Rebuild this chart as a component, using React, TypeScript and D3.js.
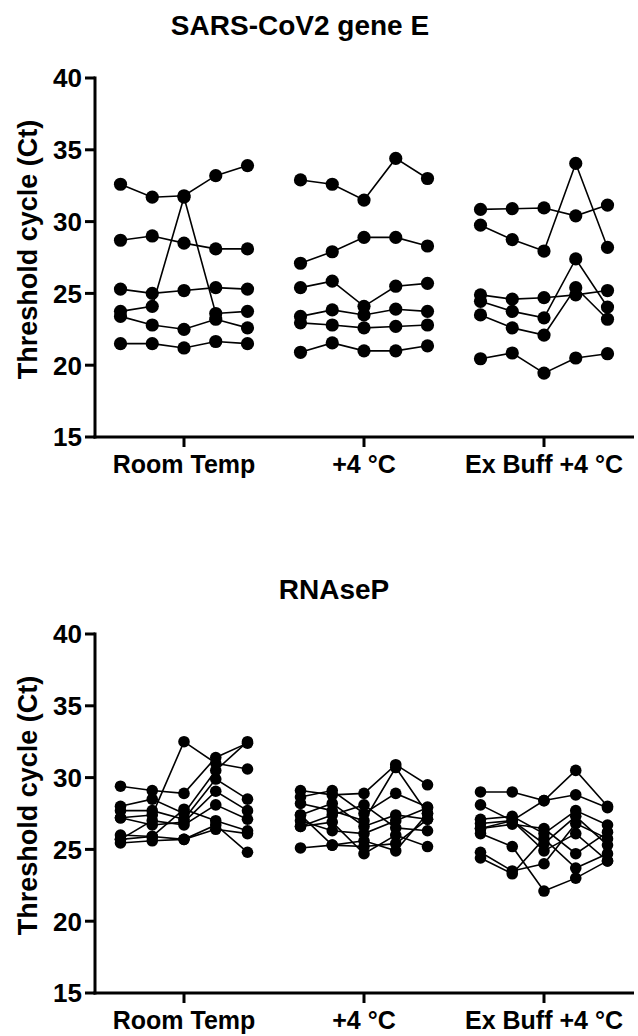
import React from "react";
import * as d3 from "d3";

const categories = ["Room Temp", "+4 °C", "Ex Buff +4 °C"];
const yTicks = [15, 20, 25, 30, 35, 40];
const timepoints = [0, 1, 2, 3, 4];

// SARS-CoV2 gene E: series per condition, 5 timepoints each
const geneERoomTemp = [
  [32.6, 31.7, 31.8, 33.2, 33.9],
  [28.7, 29.0, 28.5, 28.1, 28.1],
  [25.3, 25.0, 25.2, 25.4, 25.3],
  [23.75, 24.1, 31.7, 23.6, 23.75],
  [23.4, 22.8, 22.5, 23.2, 22.6],
  [21.5, 21.5, 21.2, 21.65, 21.5],
];
const geneEFour = [
  [32.9, 32.6, 31.5, 34.4, 33.0],
  [27.1, 27.9, 28.9, 28.9, 28.3],
  [25.4, 25.85, 24.1, 25.5, 25.7],
  [23.4, 23.85, 23.5, 23.9, 23.75],
  [22.95, 22.8, 22.6, 22.7, 22.8],
  [20.9, 21.55, 21.0, 21.0, 21.35],
];
const geneEExBuff = [
  [30.85, 30.9, 30.95, 30.4, 31.15],
  [29.75, 28.75, 27.95, 34.05, 28.2],
  [24.9, 24.6, 24.7, 24.9, 25.2],
  [24.45, 23.75, 23.3, 27.4, 24.05],
  [23.5, 22.6, 22.1, 25.4, 23.2],
  [20.45, 20.85, 19.45, 20.5, 20.8],
];

// RNAseP
const rnaseRoomTemp = [
  [29.4, 29.1, 28.9, 31.4, 32.4],
  [27.2, 27.4, 32.5, 31.0, 30.6],
  [28.0, 28.5, 27.5, 30.5, 32.5],
  [27.7, 27.7, 27.1, 29.9, 28.5],
  [27.2, 26.7, 26.9, 29.05, 27.7],
  [25.7, 27.0, 26.7, 28.1, 27.1],
  [26.0, 25.9, 27.8, 27.0, 26.3],
  [25.45, 25.6, 25.7, 26.7, 24.8],
  [25.7, 25.9, 25.7, 26.4, 26.1],
];
const rnaseFour = [
  [29.1, 28.8, 28.9, 30.9, 29.5],
  [28.65, 29.1, 27.5, 28.9, 27.95],
  [28.2, 27.7, 27.0, 30.7, 27.5],
  [27.4, 28.2, 26.6, 27.4, 27.1],
  [27.0, 26.3, 26.1, 27.0, 27.9],
  [26.6, 27.4, 28.1, 26.5, 26.3],
  [25.1, 25.3, 25.2, 25.4, 27.1],
  [26.6, 26.9, 24.7, 26.0, 25.2],
  [27.4, 25.3, 25.6, 24.9, 27.5],
];
const rnaseExBuff = [
  [29.0, 29.0, 28.4, 30.5, 28.0],
  [28.1, 27.0, 28.4, 28.8, 27.9],
  [27.1, 27.3, 26.1, 27.7, 26.7],
  [26.8, 27.0, 25.4, 27.3, 25.3],
  [26.45, 26.75, 26.45, 24.7, 26.2],
  [26.1, 25.2, 22.1, 23.0, 24.2],
  [24.8, 23.5, 24.0, 26.8, 25.75],
  [24.4, 23.3, 25.75, 23.7, 24.7],
  [26.45, 27.0, 24.9, 26.1, 24.2],
];

const panels = [
  { title: "SARS-CoV2 gene E", groups: [geneERoomTemp, geneEFour, geneEExBuff], top: 78, bottom: 437, titleX: 300, titleY: 35, r: 6.6 },
  { title: "RNAseP", groups: [rnaseRoomTemp, rnaseFour, rnaseExBuff], top: 634, bottom: 993, titleX: 334, titleY: 599, r: 5.8 },
];

const FONT = "'Liberation Sans', Arial, sans-serif";

function Panel({ p }: { p: (typeof panels)[number] }) {
  const x = d3.scaleBand<string>().domain(categories).range([94, 634]).padding(0);
  const off = d3.scalePoint<number>().domain(timepoints).range([-63.5, 63.5]);
  const y = d3.scaleLinear().domain([15, 40]).range([p.bottom, p.top]);
  const cx = (ci: number, t: number) => (x(categories[ci]) as number) + x.bandwidth() / 2 + (off(t) as number);
  const axisX = 95;
  return (
    <g>
      <text x={p.titleX} y={p.titleY} textAnchor="middle" fontFamily={FONT} fontWeight="bold" fontSize={28}>
        {p.title}
      </text>
      <text
        transform={`translate(37,${(p.top + p.bottom) / 2 - 8}) rotate(-90)`}
        textAnchor="middle"
        fontFamily={FONT}
        fontWeight="bold"
        fontSize={27}
      >
        Threshold cycle (Ct)
      </text>
      {/* data */}
      {p.groups.map((g, ci) =>
        g.map((s, si) => {
          const line = d3
            .line<number>()
            .x((_, t) => cx(ci, t))
            .y((v) => y(v));
          return (
            <g key={`${ci}-${si}`}>
              <path d={line(s) as string} fill="none" stroke="#000" strokeWidth={1.6} />
              {s.map((v, t) => (
                <circle key={t} cx={cx(ci, t)} cy={y(v)} r={p.r} fill="#000" />
              ))}
            </g>
          );
        })
      )}
      {/* y axis */}
      <line x1={axisX} x2={axisX} y1={p.top - 1.5} y2={p.bottom + 1.5} stroke="#000" strokeWidth={3} />
      {yTicks.map((t) => (
        <g key={t}>
          <line x1={axisX - 10} x2={axisX} y1={y(t)} y2={y(t)} stroke="#000" strokeWidth={3} />
          <text x={82} y={y(t)} dy="0.36em" textAnchor="end" fontFamily={FONT} fontWeight="bold" fontSize={26}>
            {t}
          </text>
        </g>
      ))}
      {/* x axis */}
      <line x1={axisX - 1.5} x2={634} y1={p.bottom} y2={p.bottom} stroke="#000" strokeWidth={3} />
      {categories.map((c) => {
        const xc = (x(c) as number) + x.bandwidth() / 2;
        return (
          <g key={c}>
            <line x1={xc} x2={xc} y1={p.bottom} y2={p.bottom + 10} stroke="#000" strokeWidth={3} />
            <text x={xc} y={p.bottom + 36} textAnchor="middle" fontFamily={FONT} fontWeight="bold" fontSize={25}>
              {c}
            </text>
          </g>
        );
      })}
    </g>
  );
}

export default function App() {
  return (
    <svg width={638} height={1036} style={{ position: "absolute", left: 0, top: 0, background: "#fff" }}>
      <rect width={638} height={1036} fill="#fff" />
      {panels.map((p) => (
        <Panel key={p.title} p={p} />
      ))}
    </svg>
  );
}
